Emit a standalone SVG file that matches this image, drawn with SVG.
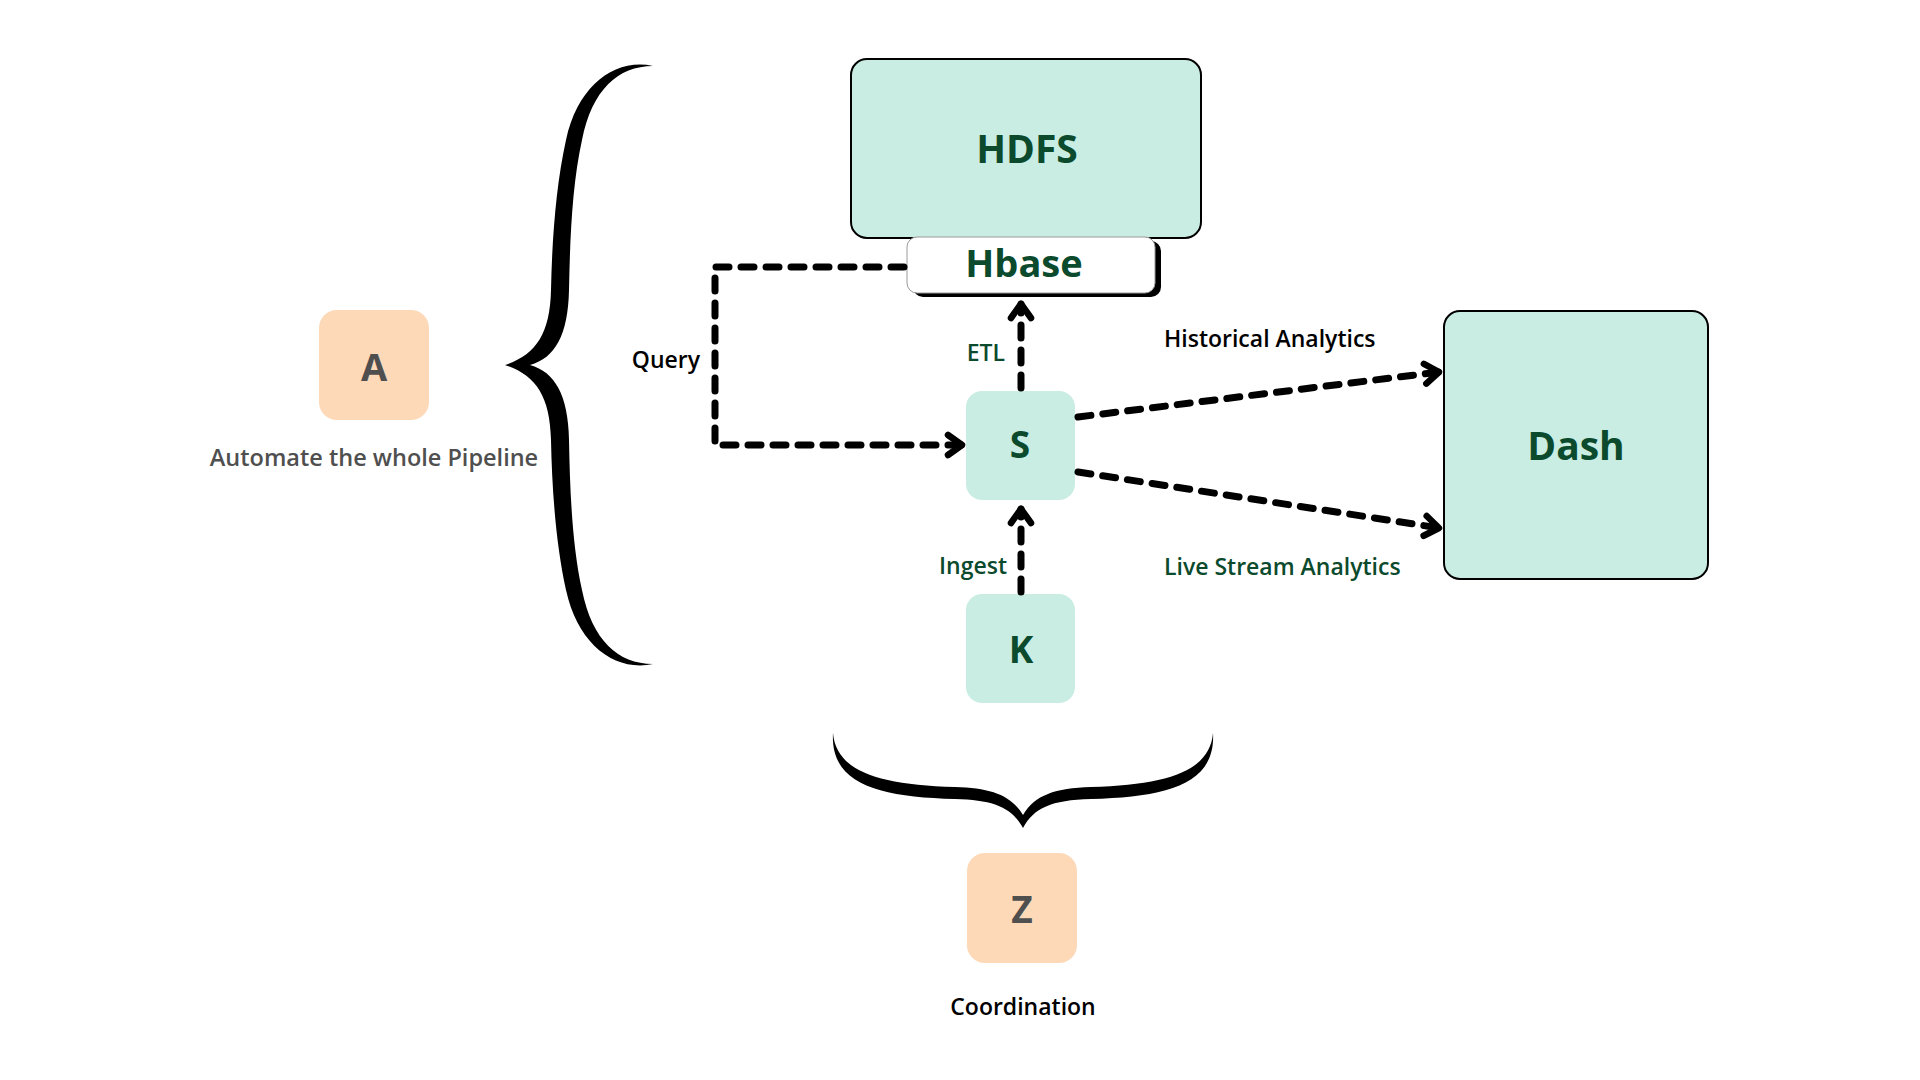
<svg xmlns="http://www.w3.org/2000/svg" width="1920" height="1080" viewBox="0 0 1920 1080">
<defs>
<style>
.mint{fill:#c9ece3}
.peach{fill:#fdd9b7}
.bd{stroke:#000;stroke-width:2}
.nt{font-family:"Open Sans","Liberation Sans",sans-serif;font-weight:700;fill:#0b4a2c;text-anchor:middle}
.gt{font-family:"Open Sans","Liberation Sans",sans-serif;font-weight:700;fill:#4f4f4f;text-anchor:middle}
.lb{font-family:"Open Sans","Liberation Sans",sans-serif;font-weight:600;font-size:23px;fill:#000}
.lg{font-family:"Open Sans","Liberation Sans",sans-serif;font-weight:600;font-size:23px;fill:#0b4a2c}
.ln{fill:none;stroke:#000;stroke-width:7;stroke-dasharray:13 12;stroke-linecap:round;stroke-linejoin:round}
</style>
<marker id="ah" markerUnits="userSpaceOnUse" viewBox="-22 -16 28 32" markerWidth="28" markerHeight="32" refX="0" refY="0" orient="auto" overflow="visible">
<path d="M-14,-10 L0,0 L-14,10" fill="none" stroke="#000" stroke-width="6.5" stroke-linecap="round" stroke-linejoin="round"/>
</marker>
</defs>
<rect width="1920" height="1080" fill="#fff"/>

<g id="brace-left">
<path fill="#000" d="M653,66 C615,58 578,85 566,140 C556,185 552,240 551,290 C550,335 535,355 505,365 C535,375 550,395 551,440 C552,490 556,545 566,590 C578,645 615,672 653,664 C618,664 592,640 582,590 C572,545 570,490 569,440 C568,395 555,372 530,365 C555,358 568,335 569,290 C570,240 572,185 582,140 C592,90 618,66 653,66 Z"/>
</g>
<g id="brace-bottom">
<path fill="#000" d="M833,733 C830,785 880,797 955,799 C995,800 1012,808 1023,828 C1034,808 1051,800 1091,799 C1166,797 1216,785 1213,733 C1210,770 1170,785 1091,787 C1055,788 1035,795 1023,815 C1011,795 991,788 955,787 C876,785 836,770 833,733 Z"/>
</g>

<g id="node-hdfs">
<rect class="mint bd" x="851" y="59" width="350" height="179" rx="16"/>
<text class="nt" x="1027" y="163" font-size="39">HDFS</text>
</g>
<g id="node-hbase">
<rect x="913" y="241" width="248" height="56" rx="10" fill="#000"/>
<rect x="907" y="237" width="248" height="56" rx="10" fill="#fff" stroke="#9a9a9a" stroke-width="1"/>
<text class="nt" x="1024" y="277" font-size="38">Hbase</text>
</g>
<g id="node-s">
<rect class="mint" x="966" y="391" width="109" height="109" rx="16"/>
<text class="nt" x="1020" y="458" font-size="37">S</text>
</g>
<g id="node-k">
<rect class="mint" x="966" y="594" width="109" height="109" rx="16"/>
<text class="nt" x="1021" y="663" font-size="37">K</text>
</g>
<g id="node-dash">
<rect class="mint bd" x="1444" y="311" width="264" height="268" rx="16"/>
<text class="nt" x="1576" y="460" font-size="39">Dash</text>
</g>
<g id="node-a">
<rect class="peach" x="319" y="310" width="110" height="110" rx="18"/>
<text class="gt" x="374" y="381" font-size="38">A</text>
<text class="gt" x="374" y="466" font-size="23.5" style="font-weight:600">Automate the whole Pipeline</text>
</g>
<g id="node-z">
<rect class="peach" x="967" y="853" width="110" height="110" rx="18"/>
<text class="gt" x="1022" y="923" font-size="37">Z</text>
<text class="lb" x="1023" y="1015" text-anchor="middle">Coordination</text>
</g>

<g id="connectors">
<path class="ln" d="M904,267 L715,267 L715,445 L962,445" marker-end="url(#ah)"/>
<path class="ln" d="M1021,388 L1021,304" marker-end="url(#ah)"/>
<path class="ln" d="M1021,592 L1021,509" marker-end="url(#ah)"/>
<path class="ln" d="M1078,417 L1439,372" marker-end="url(#ah)"/>
<path class="ln" d="M1078,472 L1439,528" marker-end="url(#ah)"/>
<text class="lb" x="700" y="368" text-anchor="end">Query</text>
<text class="lg" x="1005" y="361" text-anchor="end" font-size="22">ETL</text>
<text class="lg" x="1007" y="574" text-anchor="end">Ingest</text>
<text class="lb" x="1164" y="347" font-size="24.8">Historical Analytics</text>
<text class="lg" x="1164" y="575" font-size="24.1">Live Stream Analytics</text>
</g>
</svg>
